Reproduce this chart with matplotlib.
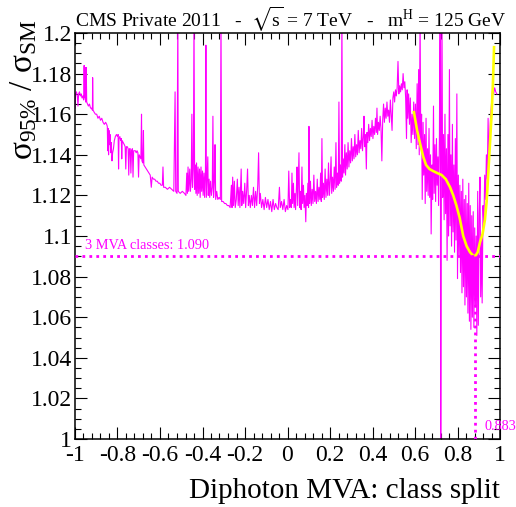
import matplotlib
matplotlib.use("Agg")
import matplotlib.pyplot as plt
from matplotlib.ticker import MultipleLocator, FixedLocator, FixedFormatter

plt.rcParams['font.family'] = ['Liberation Serif', 'DejaVu Serif']
plt.rcParams['mathtext.fontset'] = 'custom'
plt.rcParams['mathtext.rm'] = 'Liberation Serif'
plt.rcParams['mathtext.it'] = 'Liberation Serif:italic'
plt.rcParams['mathtext.bf'] = 'Liberation Serif:bold'
plt.rcParams['mathtext.fallback'] = 'stix'

# ---- data: limit ratio scan vs. class split (magenta) ----
scan_x = [
    -1.000, -0.997, -0.993, -0.989, -0.986, -0.983, -0.979, -0.975, -0.971, -0.967, -0.963, -0.959,
    -0.957, -0.955, -0.952, -0.950, -0.947, -0.945, -0.941, -0.937, -0.932, -0.927, -0.922, -0.918,
    -0.917, -0.915, -0.910, -0.904, -0.898, -0.892, -0.886, -0.880, -0.874, -0.868, -0.862, -0.856,
    -0.851, -0.848, -0.846, -0.844, -0.842, -0.840, -0.837, -0.835, -0.832, -0.829, -0.826, -0.823,
    -0.819, -0.815, -0.810, -0.805, -0.800, -0.797, -0.795, -0.793, -0.789, -0.785, -0.782, -0.780,
    -0.778, -0.773, -0.768, -0.764, -0.761, -0.758, -0.754, -0.750, -0.747, -0.744, -0.740, -0.737,
    -0.734, -0.730, -0.727, -0.724, -0.720, -0.716, -0.712, -0.708, -0.704, -0.701, -0.698, -0.694,
    -0.690, -0.687, -0.685, -0.681, -0.678, -0.676, -0.670, -0.664, -0.658, -0.652, -0.646, -0.641,
    -0.637, -0.631, -0.625, -0.619, -0.613, -0.607, -0.601, -0.595, -0.589, -0.586, -0.583, -0.575,
    -0.565, -0.555, -0.545, -0.535, -0.529, -0.526, -0.520, -0.516, -0.514, -0.505, -0.495, -0.485,
    -0.478, -0.474, -0.471, -0.468, -0.465, -0.460, -0.457, -0.453, -0.450, -0.447, -0.443, -0.440,
    -0.437, -0.434, -0.431, -0.428, -0.425, -0.421, -0.418, -0.414, -0.411, -0.407, -0.404, -0.400,
    -0.397, -0.393, -0.390, -0.386, -0.384, -0.382, -0.378, -0.375, -0.373, -0.369, -0.366, -0.362,
    -0.358, -0.354, -0.351, -0.348, -0.344, -0.341, -0.338, -0.333, -0.328, -0.322, -0.316, -0.313,
    -0.310, -0.303, -0.296, -0.290, -0.283, -0.276, -0.270, -0.264, -0.261, -0.258, -0.254, -0.250,
    -0.246, -0.241, -0.236, -0.232, -0.228, -0.224, -0.218, -0.215, -0.211, -0.206, -0.201, -0.197,
    -0.192, -0.188, -0.184, -0.180, -0.175, -0.170, -0.165, -0.160, -0.155, -0.150, -0.145, -0.140,
    -0.136, -0.132, -0.128, -0.122, -0.116, -0.110, -0.104, -0.098, -0.092, -0.086, -0.080, -0.074,
    -0.068, -0.062, -0.056, -0.050, -0.044, -0.038, -0.034, -0.028, -0.022, -0.016, -0.010, -0.004,
    0.002, 0.006, 0.010, 0.014, 0.018, 0.021, 0.024, 0.028, 0.031, 0.035, 0.038, 0.042,
    0.045, 0.048, 0.051, 0.054, 0.057, 0.061, 0.064, 0.068, 0.071, 0.075, 0.078, 0.082,
    0.086, 0.089, 0.092, 0.096, 0.099, 0.101, 0.104, 0.108, 0.112, 0.116, 0.120, 0.124,
    0.128, 0.132, 0.136, 0.140, 0.144, 0.148, 0.152, 0.156, 0.159, 0.162, 0.165, 0.169,
    0.173, 0.177, 0.181, 0.185, 0.189, 0.193, 0.197, 0.201, 0.205, 0.208, 0.212, 0.216,
    0.220, 0.224, 0.228, 0.231, 0.235, 0.239, 0.242, 0.245, 0.249, 0.253, 0.256, 0.259,
    0.262, 0.266, 0.270, 0.273, 0.277, 0.281, 0.285, 0.289, 0.293, 0.297, 0.301, 0.305,
    0.309, 0.313, 0.317, 0.321, 0.325, 0.329, 0.333, 0.337, 0.341, 0.345, 0.349, 0.353,
    0.357, 0.360, 0.363, 0.367, 0.371, 0.374, 0.378, 0.382, 0.386, 0.390, 0.394, 0.398,
    0.402, 0.406, 0.410, 0.414, 0.418, 0.421, 0.424, 0.428, 0.432, 0.436, 0.440, 0.444,
    0.448, 0.452, 0.456, 0.460, 0.464, 0.468, 0.472, 0.476, 0.480, 0.484, 0.488, 0.492,
    0.496, 0.500, 0.504, 0.508, 0.512, 0.516, 0.520, 0.524, 0.528, 0.532, 0.536, 0.540,
    0.544, 0.548, 0.552, 0.556, 0.560, 0.563, 0.566, 0.570, 0.574, 0.578, 0.582, 0.586,
    0.590, 0.594, 0.598, 0.602, 0.606, 0.610, 0.614, 0.617, 0.620, 0.624, 0.627, 0.631,
    0.634, 0.638, 0.641, 0.645, 0.648, 0.652, 0.655, 0.659, 0.662, 0.666, 0.669, 0.673,
    0.676, 0.680, 0.683, 0.687, 0.690, 0.694, 0.697, 0.701, 0.704, 0.708, 0.711, 0.715,
    0.719, 0.721, 0.724, 0.727, 0.730, 0.734, 0.737, 0.741, 0.744, 0.748, 0.751, 0.755,
    0.758, 0.762, 0.765, 0.769, 0.772, 0.776, 0.779, 0.783, 0.786, 0.790, 0.793, 0.797,
    0.800, 0.804, 0.807, 0.811, 0.814, 0.818, 0.821, 0.825, 0.828, 0.832, 0.835, 0.839,
    0.842, 0.846, 0.849, 0.853, 0.856, 0.860, 0.863, 0.867, 0.870, 0.874, 0.877, 0.881,
    0.884, 0.888, 0.891, 0.895, 0.898, 0.902, 0.906, 0.909, 0.913, 0.916, 0.920, 0.924,
    0.928, 0.932, 0.936, 0.940, 0.944, 0.948, 0.952, 0.956, 0.960, 0.965, 0.970, 0.975,
    0.980, 0.985,
]
scan_y = [
    1.163, 1.170, 1.171, 1.169, 1.164, 1.170, 1.171, 1.169, 1.170, 1.168, 1.169, 1.167,
    1.184, 1.168, 1.183, 1.166, 1.183, 1.166, 1.165, 1.164, 1.165, 1.163, 1.163, 1.162,
    1.178, 1.162, 1.161, 1.160, 1.160, 1.158, 1.159, 1.157, 1.158, 1.156, 1.155, 1.156,
    1.155, 1.154, 1.142, 1.153, 1.140, 1.152, 1.145, 1.150, 1.141, 1.146, 1.137, 1.141,
    1.143, 1.147, 1.149, 1.150, 1.149, 1.150, 1.133, 1.148, 1.149, 1.147, 1.148, 1.138,
    1.147, 1.146, 1.145, 1.144, 1.133, 1.144, 1.144, 1.143, 1.130, 1.143, 1.143, 1.131,
    1.142, 1.143, 1.129, 1.142, 1.142, 1.142, 1.141, 1.142, 1.141, 1.129, 1.140, 1.139,
    1.138, 1.160, 1.137, 1.136, 1.152, 1.135, 1.134, 1.133, 1.132, 1.131, 1.130, 1.124,
    1.129, 1.128, 1.128, 1.127, 1.127, 1.126, 1.126, 1.125, 1.125, 1.134, 1.124, 1.124,
    1.123, 1.124, 1.123, 1.122, 1.171, 1.122, 1.121, 1.210, 1.122, 1.121, 1.122, 1.121,
    1.120, 1.131, 1.121, 1.134, 1.122, 1.133, 1.122, 1.128, 1.160, 1.124, 1.133, 1.210,
    1.123, 1.135, 1.121, 1.136, 1.120, 1.134, 1.121, 1.133, 1.119, 1.134, 1.122, 1.132,
    1.120, 1.131, 1.119, 1.133, 1.194, 1.119, 1.130, 1.139, 1.120, 1.128, 1.119, 1.127,
    1.120, 1.124, 1.159, 1.119, 1.127, 1.145, 1.118, 1.122, 1.118, 1.119, 1.118, 1.210,
    1.117, 1.117, 1.116, 1.116, 1.115, 1.115, 1.114, 1.125, 1.114, 1.129, 1.115, 1.127,
    1.114, 1.118, 1.128, 1.115, 1.124, 1.114, 1.133, 1.115, 1.122, 1.116, 1.126, 1.114,
    1.123, 1.133, 1.115, 1.120, 1.114, 1.120, 1.115, 1.124, 1.114, 1.122, 1.115, 1.125,
    1.141, 1.116, 1.121, 1.114, 1.118, 1.113, 1.119, 1.114, 1.118, 1.113, 1.117, 1.112,
    1.118, 1.113, 1.116, 1.114, 1.113, 1.124, 1.114, 1.117, 1.113, 1.118, 1.112, 1.115,
    1.113, 1.132, 1.114, 1.118, 1.114, 1.131, 1.116, 1.126, 1.114, 1.121, 1.113, 1.124,
    1.134, 1.115, 1.129, 1.141, 1.114, 1.122, 1.113, 1.134, 1.116, 1.125, 1.114, 1.120,
    1.107, 1.121, 1.115, 1.126, 1.114, 1.154, 1.116, 1.127, 1.115, 1.123, 1.116, 1.130,
    1.117, 1.122, 1.116, 1.128, 1.117, 1.124, 1.118, 1.131, 1.117, 1.148, 1.119, 1.126,
    1.118, 1.133, 1.119, 1.128, 1.120, 1.136, 1.120, 1.127, 1.139, 1.121, 1.129, 1.122,
    1.134, 1.123, 1.146, 1.124, 1.131, 1.125, 1.166, 1.126, 1.135, 1.127, 1.210, 1.129,
    1.138, 1.131, 1.145, 1.130, 1.141, 1.133, 1.146, 1.134, 1.142, 1.136, 1.148, 1.137,
    1.144, 1.138, 1.150, 1.139, 1.145, 1.140, 1.152, 1.141, 1.147, 1.143, 1.153, 1.142,
    1.149, 1.159, 1.144, 1.150, 1.133, 1.151, 1.146, 1.155, 1.147, 1.153, 1.149, 1.157,
    1.148, 1.154, 1.150, 1.158, 1.151, 1.163, 1.150, 1.156, 1.152, 1.159, 1.153, 1.137,
    1.157, 1.165, 1.156, 1.163, 1.158, 1.166, 1.159, 1.162, 1.156, 1.167, 1.160, 1.152,
    1.168, 1.171, 1.166, 1.172, 1.169, 1.173, 1.186, 1.170, 1.174, 1.171, 1.175, 1.172,
    1.180, 1.173, 1.176, 1.168, 1.148, 1.172, 1.158, 1.170, 1.155, 1.168, 1.146, 1.160,
    1.150, 1.166, 1.148, 1.165, 1.143, 1.175, 1.145, 1.182, 1.140, 1.210, 1.143, 1.160,
    1.118, 1.156, 1.130, 1.150, 1.116, 1.158, 1.122, 1.143, 1.120, 1.153, 1.119, 1.140,
    1.101, 1.135, 1.118, 1.164, 1.121, 1.145, 1.117, 1.148, 1.125, 1.139, 1.115, 1.150,
    1.250, 0.950, 1.132, 1.210, 1.119, 1.150, 1.108, 1.160, 1.111, 1.143, 1.088, 1.150,
    1.100, 1.182, 1.105, 1.140, 1.095, 1.155, 1.102, 1.135, 1.092, 1.148, 1.098, 1.170,
    1.079, 1.130, 1.090, 1.125, 1.082, 1.122, 1.072, 1.128, 1.075, 1.118, 1.066, 1.120,
    1.070, 1.116, 1.062, 1.126, 1.058, 1.115, 1.054, 1.110, 1.060, 1.112, 1.055, 1.104,
    1.065, 1.100, 1.051, 1.122, 1.056, 1.110, 1.129, 1.070, 1.100, 1.067, 1.115, 1.105,
    1.130, 1.118, 1.140, 1.128, 1.158, 1.135, 1.150, 1.160, 1.165, 1.172, 1.170, 1.173,
    1.171, 1.170,
]

# ---- smooth fit (yellow) ----
fit_x = [0.595, 0.610, 0.625, 0.639, 0.652, 0.668, 0.685, 0.705, 0.726, 0.745, 0.765,
         0.780, 0.795, 0.810, 0.827, 0.843, 0.859, 0.872, 0.883, 0.895, 0.906, 0.918,
         0.929, 0.937, 0.945, 0.953, 0.961, 0.967, 0.972]
fit_y = [1.161, 1.152, 1.145, 1.139, 1.135, 1.133, 1.132, 1.131, 1.130, 1.128, 1.124,
         1.120, 1.115, 1.109, 1.100, 1.095, 1.092, 1.0905, 1.090, 1.092, 1.097, 1.101,
         1.108, 1.117, 1.131, 1.146, 1.161, 1.176, 1.193]

best_cut = 0.883
best_val = 1.090
label_best = "3 MVA classes: 1.090"
label_cut = "0.883"

xticks = [-1, -0.8, -0.6, -0.4, -0.2, 0, 0.2, 0.4, 0.6, 0.8, 1]
xticklabels = ["-1", "-0.8", "-0.6", "-0.4", "-0.2", "0", "0.2", "0.4", "0.6", "0.8", "1"]
yticks = [1.0, 1.02, 1.04, 1.06, 1.08, 1.1, 1.12, 1.14, 1.16, 1.18, 1.2]
yticklabels = ["1", "1.02", "1.04", "1.06", "1.08", "1.1", "1.12", "1.14", "1.16", "1.18", "1.2"]

W, H = 516, 507
fig = plt.figure(figsize=(W / 100, H / 100), dpi=100)
ax = fig.add_axes([75 / W, (H - 439) / H, 425 / W, 406 / H])

magenta = '#ff00ff'
ax.plot(scan_x, scan_y, color=magenta, lw=0.8, zorder=2)
ax.plot(fit_x, fit_y, color='#ffff00', lw=1.9, zorder=3, solid_joinstyle='round')
ax.plot([-1, 1], [best_val, best_val], color=magenta, lw=2.0, ls=(0, (1, 1.5)), zorder=4)
ax.plot([best_cut, best_cut], [1.0, best_val], color=magenta, lw=2.0, ls=(0, (1, 1.5)), zorder=4)

ax.text(-0.953, best_val + 0.0035, label_best, color=magenta, fontsize=10.3, ha='left', va='baseline')
ax.text(0.929, 1.0045, label_cut, color=magenta, fontsize=10.3, ha='left', va='baseline', clip_on=False)

ax.set_xlim(-1, 1)
ax.set_ylim(1.0, 1.2)
ax.xaxis.set_major_locator(FixedLocator(xticks))
ax.xaxis.set_major_formatter(FixedFormatter(xticklabels))
ax.xaxis.set_minor_locator(MultipleLocator(0.04))
ax.yaxis.set_major_locator(FixedLocator(yticks))
ax.yaxis.set_major_formatter(FixedFormatter(yticklabels))
ax.yaxis.set_minor_locator(MultipleLocator(0.005))
ax.tick_params(which='both', direction='in', top=True, right=True, width=0.8, labelsize=17)
ax.tick_params(which='major', length=8.5)
ax.tick_params(which='minor', length=4.3)
ax.tick_params(axis='y', pad=2)
ax.tick_params(axis='x', pad=4)
for s in ax.spines.values():
    s.set_linewidth(1.1)

fig.text(500 / W, 1 - 498 / H, "Diphoton MVA: class split", fontsize=21, ha='right', va='baseline')
fig.text(75 / W, 1 - 27 / H, r"CMS Private 2011   -  $\sqrt{\mathrm{s}}$ = 7 TeV   -   m$^{\mathrm{H}}$ = 125 GeV",
         fontsize=14, ha='left', va='baseline')
fig.text(24 / W, 1 - 90 / H, r"$\mathrm{σ}_{95\%}\ /\ \mathrm{σ}_{\mathrm{SM}}$", fontsize=24,
         rotation=90, ha='center', va='center')

fig.savefig("out.png", dpi=100)
